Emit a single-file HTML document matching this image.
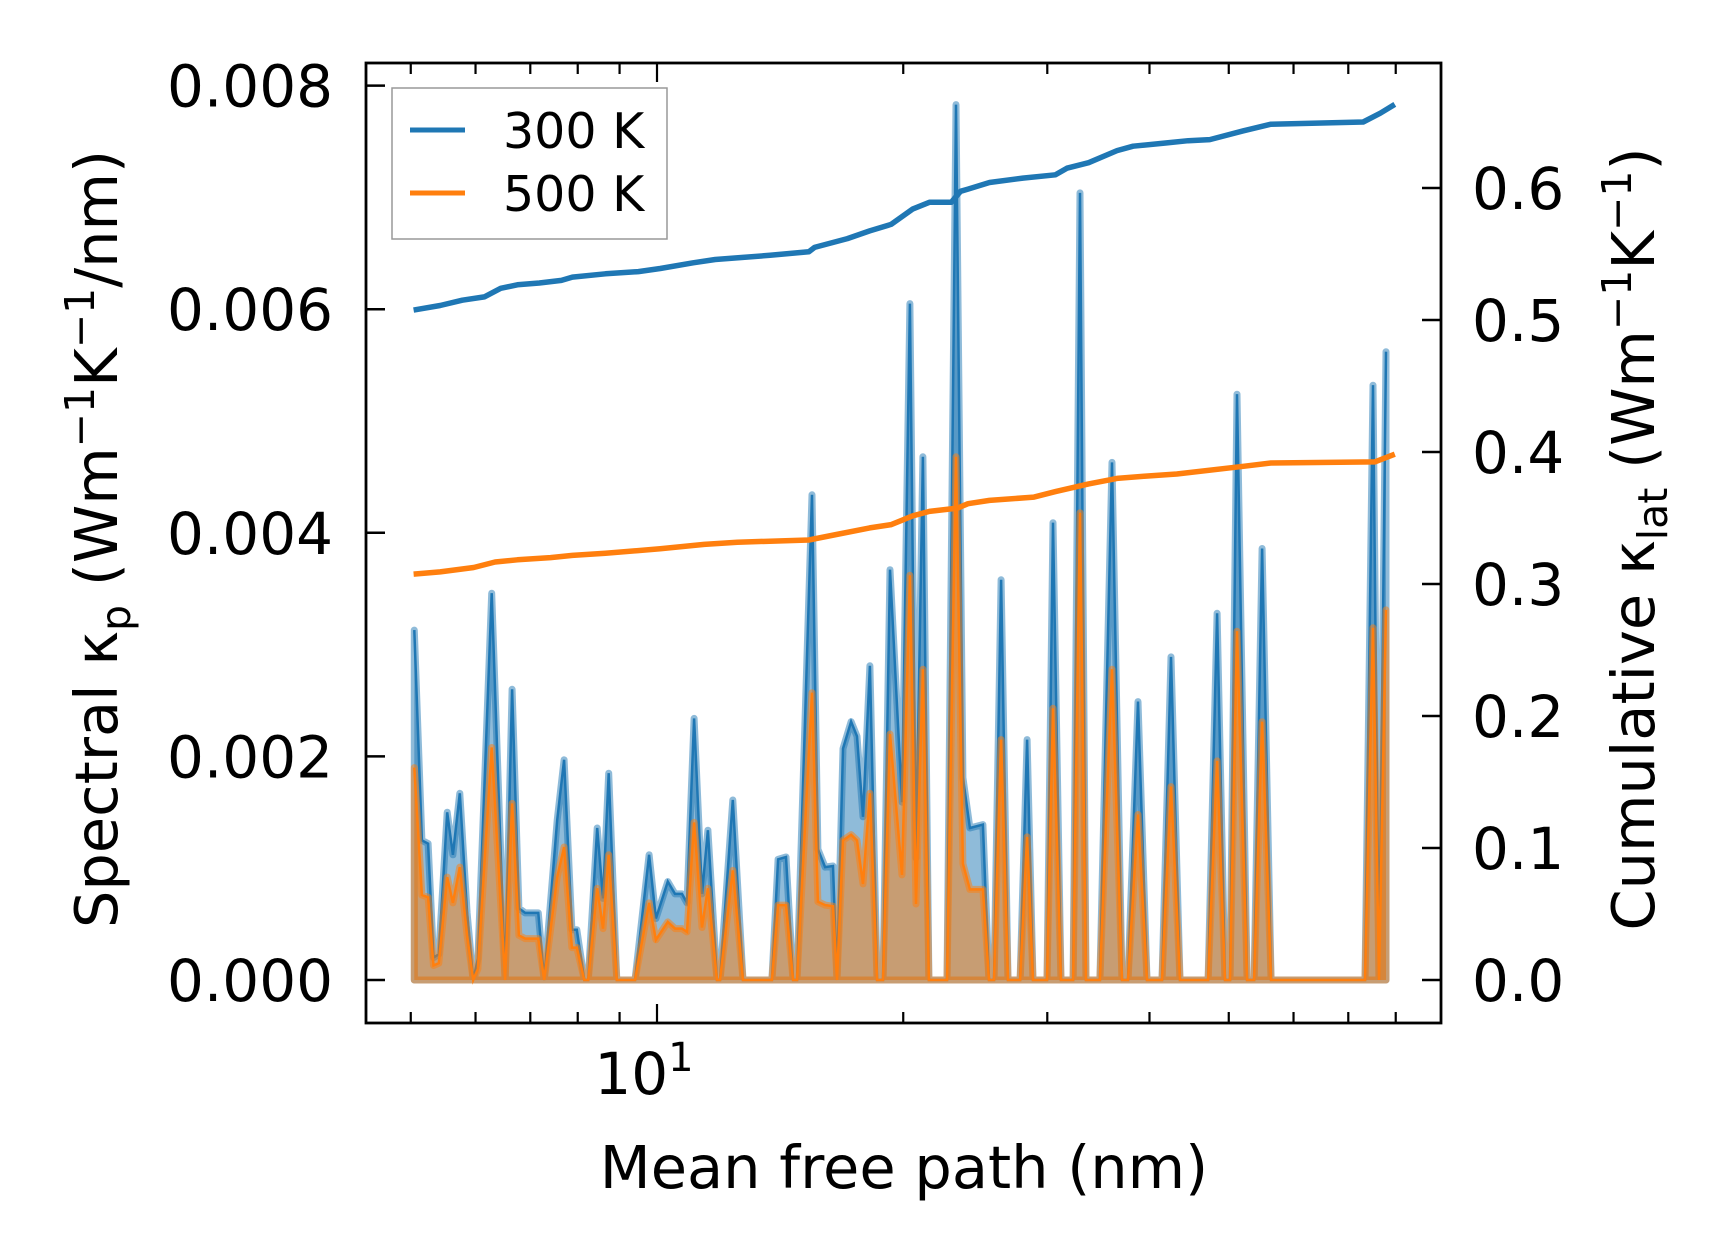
<!DOCTYPE html>
<html><head><meta charset="utf-8"><style>
html,body{margin:0;padding:0;background:#fff;}
svg{display:block;font-family:"DejaVu Sans","Liberation Sans",sans-serif;}
</style></head><body>
<svg id="chart" width="1716" height="1256" viewBox="0 0 1716 1256" xmlns="http://www.w3.org/2000/svg">
<g id="plot"></g>
</svg>
<script>
// ---- data ----
const mfpSpectral = [5.05,5.16,5.25,5.33,5.41,5.54,5.63,5.74,5.86,5.96,6.04,6.28,6.52,6.65,6.78,6.90,7.16,7.28,7.55,7.70,7.87,7.98,8.15,8.24,8.45,8.59,8.73,8.93,9.40,9.78,9.97,10.31,10.52,10.73,10.88,11.10,11.35,11.54,11.84,11.94,12.38,12.74,13.82,14.06,14.38,14.67,14.83,15.47,15.73,16.05,16.41,16.60,16.88,17.27,17.56,17.86,18.21,18.58,18.89,19.27,19.93,20.38,20.73,21.14,21.50,22.62,23.20,23.66,24.13,25.03,25.46,25.82,26.34,26.86,27.79,28.34,28.82,29.98,30.49,31.18,32.26,32.89,33.45,34.79,35.99,37.02,37.65,38.73,39.72,41.43,42.50,43.59,47.17,48.38,49.48,50.18,51.17,52.65,53.70,54.92,56.33,73.38,75.05,76.33,77.85];
const kp300 = [0.00313,0.00125,0.00122,0.0002,0.00023,0.0015,0.00112,0.00167,0.0006,0,0.00019,0.00346,0,0.0026,0.00064,0.0006,0.0006,0,0.00143,0.00197,0.00045,0.00045,0,0,0.00136,0.00073,0.00185,0,0,0.00112,0.00055,0.00088,0.00077,0.00077,0.00069,0.00234,0.00077,0.00134,0,0,0.00161,0,0,0.00108,0.0011,0,0,0.00434,0.00117,0.00101,0.00102,0,0.00207,0.00231,0.00218,0.00146,0.00281,0,0,0.00367,0.00159,0.00605,0.00109,0.00468,0,0,0.00783,0.00181,0.00136,0.00139,0,0,0.00358,0,0,0.00215,0,0,0.00409,0,0,0.00704,0,0,0.00463,0,0,0.00249,0,0,0.00289,0,0,0.00328,0,0,0.00524,0,0,0.00386,0,0,0.00532,0,0.00562];
const kp500 = [0.0019,0.00076,0.00074,0.00013,0.00015,0.00092,0.00069,0.00101,0.0004,0,0.0001,0.00208,0,0.00158,0.0004,0.00037,0.00037,0,0.00092,0.00119,0.00029,0.00029,0,0,0.00082,0.00046,0.00112,0,0,0.00069,0.00036,0.00052,0.00046,0.00046,0.00043,0.00141,0.00047,0.00082,0,0,0.00098,0,0,0.00067,0.00067,0,0,0.00257,0.0007,0.00067,0.00066,0,0.00125,0.0013,0.00125,0.00086,0.00167,0,0,0.0022,0.00094,0.00362,0.00068,0.00278,0,0,0.00468,0.00104,0.00081,0.00081,0,0,0.00215,0,0,0.00128,0,0,0.00243,0,0,0.00418,0,0,0.00278,0,0,0.00148,0,0,0.00173,0,0,0.00196,0,0,0.00312,0,0,0.00231,0,0,0.00315,0,0.00331];
const mfpCum300 = [5.04,5.43,5.78,6.15,6.44,6.75,7.18,7.64,7.88,8.65,9.49,10.09,11.07,11.78,13.75,15.33,15.58,17.09,18.2,19.34,20.55,21.53,22.9,23.5,24.0,25.5,28.0,30.7,31.7,33.7,36.5,38.2,42.0,44.6,47.4,52.1,56.3,73.0,76.6,79.8];
const cum300 = [0.5075,0.511,0.515,0.5175,0.524,0.5267,0.528,0.53,0.5325,0.535,0.5367,0.539,0.5433,0.5458,0.549,0.5517,0.555,0.5617,0.5675,0.5725,0.5842,0.5892,0.5892,0.5975,0.5992,0.6042,0.6075,0.61,0.615,0.6192,0.6283,0.6317,0.6342,0.6358,0.6367,0.6433,0.6483,0.65,0.6567,0.6633];
const mfpCum500 = [5.04,5.43,5.97,6.34,6.75,7.41,7.88,8.65,10.09,11.42,12.54,15.33,16.57,18.2,19.34,20.55,21.53,23.3,24.0,25.5,28.9,30.7,33.7,36.5,39.4,43.2,52.1,56.3,75.4,79.8];
const cum500 = [0.3075,0.3092,0.3125,0.3167,0.3183,0.32,0.3217,0.3233,0.3267,0.33,0.3317,0.3333,0.3375,0.3425,0.345,0.3517,0.355,0.3575,0.3608,0.3633,0.3658,0.37,0.3758,0.38,0.3817,0.3833,0.3892,0.3917,0.3925,0.3983];
const leftTicks = [0,0.002,0.004,0.006,0.008];
const leftTickLabels = ["0.000","0.002","0.004","0.006","0.008"];
const rightTicks = [0,0.1,0.2,0.3,0.4,0.5,0.6];
const rightTickLabels = ["0.0","0.1","0.2","0.3","0.4","0.5","0.6"];
const xMinor = [5,6,7,8,9,20,30,40,50,60,70,80];

// ---- axes ----
const L=366,R=1441,T=63,B=1023;
const X0=657, DEC=818;
function xs(v){return X0+DEC*Math.log10(v/10);}
function yl(v){return 980-v*111800;}
function yr(v){return 980-v*1320;}
const NS='http://www.w3.org/2000/svg';
const g=document.getElementById('plot');
function el(tag,attrs,parent){const e=document.createElementNS(NS,tag);for(const k in attrs)e.setAttribute(k,attrs[k]);(parent||g).appendChild(e);return e;}

function series(xv,yv,yf){return xv.map((x,i)=>[xs(x),yf(yv[i])]);}
function poly(pts,yb){return pts.map(p=>p[0].toFixed(1)+','+p[1].toFixed(1)).join(' ')+' '+pts[pts.length-1][0].toFixed(1)+','+yb+' '+pts[0][0].toFixed(1)+','+yb;}
function line(pts){return pts.map(p=>p[0].toFixed(1)+','+p[1].toFixed(1)).join(' ');}

const p300=series(mfpSpectral,kp300,yl), p500=series(mfpSpectral,kp500,yl);
const y0=yl(0);
let e;
e=el('polygon',{points:poly(p300,y0),fill:'rgba(31,119,180,0.5)',stroke:'rgba(31,119,180,0.5)','stroke-width':7,'stroke-linejoin':'round'});


e=el('polyline',{points:line(p300),fill:'none',stroke:'#1f77b4','stroke-width':2.5});


e=el('polygon',{points:poly(p500,y0),fill:'rgba(255,127,14,0.5)',stroke:'rgba(255,127,14,0.5)','stroke-width':7,'stroke-linejoin':'round'});


e=el('polyline',{points:line(p500),fill:'none',stroke:'#ff7f0e','stroke-width':2.5});



e=el('polyline',{points:line(series(mfpCum300,cum300,yr)),fill:'none',stroke:'#1f77b4','stroke-width':5.5,'stroke-linejoin':'round'});


e=el('polyline',{points:line(series(mfpCum500,cum500,yr)),fill:'none',stroke:'#ff7f0e','stroke-width':5.5,'stroke-linejoin':'round'});



// frame
e=el('rect',{x:L,y:T,width:R-L,height:B-T,fill:'none',stroke:'#000','stroke-width':2.8});



// left ticks
leftTicks.forEach((v,i)=>{
  const y=yl(v);
  const t=el('line',{x1:L,x2:L+19,y1:y,y2:y,stroke:'#000','stroke-width':2.5});
  
  
  const tx=el('text',{x:L-33,y:y+21,'font-size':58,'text-anchor':'end',fill:'#000'});
  tx.textContent=leftTickLabels[i];
  
  
});
// right ticks
rightTicks.forEach((v,i)=>{
  const y=yr(v);
  const t=el('line',{x1:R-19,x2:R,y1:y,y2:y,stroke:'#000','stroke-width':2.5});
  
  
  const tx=el('text',{x:R+31,y:y+21,'font-size':58,'text-anchor':'start',fill:'#000'});
  tx.textContent=rightTickLabels[i];
  
  
});
// x ticks (bottom + top)
[[10,19]].concat(xMinor.map(v=>[v,11])).forEach(([v,len])=>{
  const x=xs(v);
  const b=el('line',{x1:x,x2:x,y1:B,y2:B-len,stroke:'#000','stroke-width':2.2});
  
  
  const t=el('line',{x1:x,x2:x,y1:T,y2:T+len,stroke:'#000','stroke-width':2.2});
  
  
});
</script>
<svg style="position:absolute;left:0;top:0" width="1716" height="1256" viewBox="0 0 1716 1256" xmlns="http://www.w3.org/2000/svg" font-family="DejaVu Sans, Liberation Sans, sans-serif">
<text x="644" y="1094" font-size="58" text-anchor="middle">10<tspan font-size="40" dy="-23">1</tspan></text>
<text x="904" y="1188" font-size="59" text-anchor="middle">Mean free path (nm)</text>
<text transform="translate(117,539) rotate(-90)" font-size="59" text-anchor="middle">Spectral κ<tspan font-size="41" dy="13">p</tspan><tspan dy="-13"> (Wm</tspan><tspan font-size="41" dy="-23">−1</tspan><tspan dy="23">K</tspan><tspan font-size="41" dy="-23">−1</tspan><tspan dy="23">/nm)</tspan></text>
<text transform="translate(1654,539) rotate(-90)" font-size="59" text-anchor="middle">Cumulative κ<tspan font-size="41" dy="13">lat</tspan><tspan dy="-13"> (Wm</tspan><tspan font-size="41" dy="-23">−1</tspan><tspan dy="23">K</tspan><tspan font-size="41" dy="-23">−1</tspan><tspan dy="23">)</tspan></text>
<g>
<rect x="392" y="88" width="275" height="151" fill="#fff" fill-opacity="0.8" stroke="#999" stroke-width="1.5"/>
<line x1="410" x2="465" y1="130" y2="130" stroke="#1f77b4" stroke-width="5"/>
<text x="503" y="148" font-size="49">300 K</text>
<line x1="410" x2="465" y1="193" y2="193" stroke="#ff7f0e" stroke-width="5"/>
<text x="503" y="211" font-size="49">500 K</text>
</g>
</svg>
</body></html>
